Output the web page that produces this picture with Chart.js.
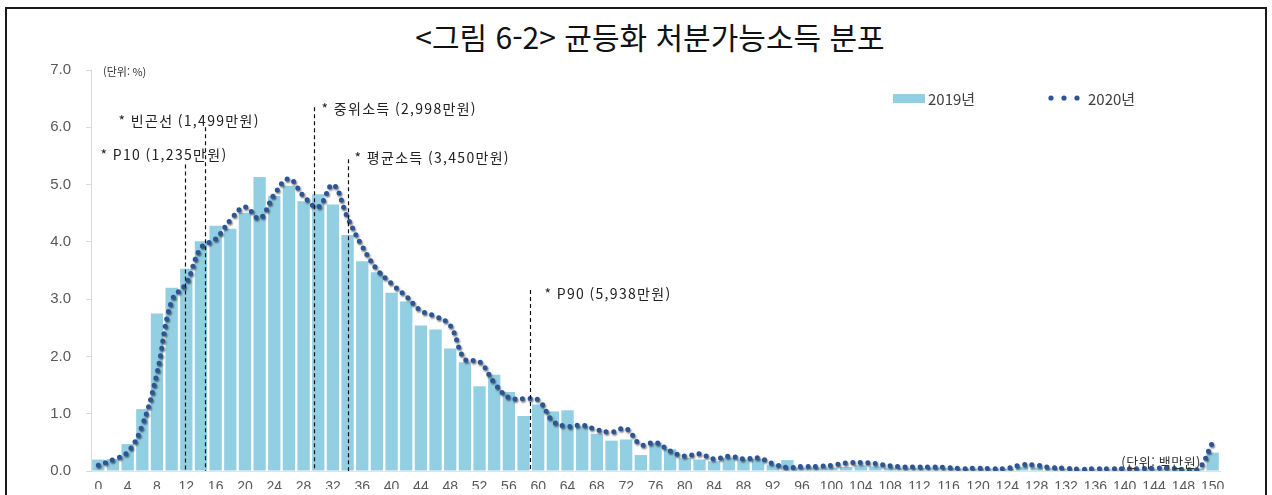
<!DOCTYPE html>
<html lang="ko">
<head>
<meta charset="UTF-8">
<title>균등화 처분가능소득 분포</title>
<script src="https://cdn.jsdelivr.net/npm/chart.js"></script>
<style>
  html, body { margin: 0; padding: 0; background: #fff; }
  #wrap { position: relative; width: 1272px; height: 495px; overflow: hidden; }
  #frame { position: absolute; left: 5px; top: 7px; width: 1258px; height: 530px; border: 2px solid #1a1a1a; }
  #title { position: absolute; left: 14px; width: 1272px; top: 14px; text-align: center;
           font-family: 'Noto Sans CJK KR', sans-serif; font-size: 30px; font-weight: 400; color: #111; }
  canvas { position: absolute; left: 0; top: 0; }
</style>
</head>
<body>
<div id="wrap">
  <div id="frame"></div>
  <div id="title">&lt;그림 6-2&gt; 균등화 처분가능소득 분포</div>
  <canvas id="incomeChart" width="1272" height="495"></canvas>
</div>

<script>
// income bins (백만원), one per bar
const categories = ['0','2','4','6','8','10','12','14','16','18','20','22','24','26','28','30','32','34','36','38',
  '40','42','44','46','48','50','52','54','56','58','60','62','64','66','68','70','72','74','76','78',
  '80','82','84','86','88','90','92','94','96','98','100','102','104','106','108','110','112','114','116','118',
  '120','122','124','126','128','130','132','134','136','138','140','142','144','146','148','149','150'];

// share of population (%)
const share2019 = [0.20,0.21,0.47,1.08,2.75,3.20,3.53,4.01,4.28,4.23,
  4.51,5.13,4.80,4.98,4.71,4.83,4.65,4.12,3.66,3.47,
  3.11,2.96,2.54,2.47,2.14,1.90,1.48,1.68,1.38,0.96,
  1.16,1.04,1.06,0.78,0.65,0.53,0.55,0.28,0.49,0.38,
  0.23,0.20,0.17,0.23,0.20,0.21,0.11,0.19,0.06,0.06,
  0.06,0.07,0.10,0.08,0.06,0.05,0.05,0.06,0.05,0.04,
  0.04,0.04,0.04,0.07,0.06,0.05,0.04,0.03,0.03,0.03,
  0.03,0.03,0.03,0.03,0.03,0.04,0.32];

const share2020 = [0.10,0.20,0.33,0.80,1.71,2.97,3.28,3.90,4.05,4.38,
  4.61,4.41,4.83,5.10,4.80,4.61,5.00,4.42,3.92,3.52,
  3.27,3.05,2.80,2.70,2.54,1.95,1.91,1.54,1.28,1.26,
  1.24,0.87,0.78,0.80,0.72,0.68,0.74,0.46,0.50,0.35,
  0.26,0.30,0.21,0.26,0.21,0.23,0.13,0.06,0.08,0.08,
  0.10,0.14,0.15,0.13,0.09,0.07,0.07,0.07,0.06,0.04,
  0.05,0.04,0.05,0.11,0.10,0.06,0.05,0.03,0.04,0.04,
  0.04,0.04,0.05,0.05,0.03,0.03,0.50];

const seriesNames = ['2019년', '2020년'];

// reference lines (만원)
const markerNames = ['P10', '빈곤선', '중위소득', '평균소득', 'P90'];
const markerIncome = [1235, 1499, 2998, 3450, 5938];

// where each reference line starts and where its label sits
const markerLayout = [
  { top: 5.35, labelY: 5.52, dx: -85 },
  { top: 6.00, labelY: 6.12, dx: -87 },
  { top: 6.35, labelY: 6.33, dx: 7 },
  { top: 5.44, labelY: 5.47, dx: 6 },
  { top: 3.16, labelY: 3.10, dx: 14 }
];

const barColor = '#93cfe3';
const dotColor = '#2c5596';
const labelFont = "14px 'Noto Sans CJK KR', sans-serif";

const fmt = n => n.toLocaleString('en-US');

const markerPlugin = {
  id: 'markers',
  beforeDatasetDraw(chart, args) {
    if (args.index === 1) {
      const ctx = chart.ctx;
      ctx.save();
      ctx.shadowColor = 'rgba(0,0,0,0.55)';
      ctx.shadowBlur = 2;
      ctx.shadowOffsetX = 1;
      ctx.shadowOffsetY = 1.5;
    }
  },
  afterDatasetDraw(chart, args) {
    if (args.index === 1) chart.ctx.restore();
  },
  afterDatasetsDraw(chart) {
    const { ctx, scales: { x, y } } = chart;
    ctx.save();
    ctx.letterSpacing = '1.3px';

    // dashed reference lines
    markerIncome.forEach((v, i) => {
      const px = Math.round(x.getPixelForValue(v / 200 - 0.25)) + 0.5;
      const lay = markerLayout[i];
      ctx.strokeStyle = '#111';
      ctx.lineWidth = 1.2;
      ctx.setLineDash([4, 3]);
      ctx.beginPath();
      ctx.moveTo(px, y.getPixelForValue(lay.top));
      ctx.lineTo(px, y.getPixelForValue(0));
      ctx.stroke();

      ctx.setLineDash([]);
      ctx.fillStyle = '#222';
      ctx.font = labelFont;
      ctx.textAlign = 'left';
      ctx.textBaseline = 'middle';
      ctx.fillText('* ' + markerNames[i] + ' (' + fmt(v) + '만원)', px + lay.dx, y.getPixelForValue(lay.labelY));
    });

    // unit notes
    ctx.fillStyle = '#333';
    ctx.font = "11px 'Noto Sans CJK KR', sans-serif";
    ctx.letterSpacing = '0px';
    ctx.textAlign = 'left';
    ctx.fillText('(단위: %)', x.left + 12, y.getPixelForValue(7) + 2);
    ctx.font = "13px 'Noto Sans CJK KR', sans-serif";
    ctx.letterSpacing = '0.5px';
    ctx.textAlign = 'right';
    ctx.fillText('(단위: 백만원)', x.right - 19, y.getPixelForValue(0) - 9);

    // legend
    const ly = 98;
    ctx.letterSpacing = '0px';
    ctx.fillStyle = barColor;
    ctx.fillRect(893, ly - 4, 32, 9);
    ctx.fillStyle = '#404040';
    ctx.font = "15px 'Noto Sans CJK KR', sans-serif";
    ctx.textAlign = 'left';
    ctx.fillText(seriesNames[0], 928, ly + 1);
    ctx.fillStyle = dotColor;
    [1051, 1064, 1077].forEach(cx => {
      ctx.beginPath();
      ctx.arc(cx, ly, 2.6, 0, Math.PI * 2);
      ctx.fill();
    });
    ctx.fillStyle = '#404040';
    ctx.fillText(seriesNames[1], 1088, ly + 1);
    ctx.restore();
  }
};

new Chart(document.getElementById('incomeChart'), {
  data: {
    labels: categories,
    datasets: [
      {
        type: 'bar',
        label: seriesNames[0],
        data: share2019,
        backgroundColor: barColor,
        barPercentage: 0.84,
        categoryPercentage: 1.0,
        order: 1
      },
      {
        type: 'line',
        label: seriesNames[1],
        data: share2020,
        borderColor: dotColor,
        borderWidth: 5,
        borderDash: [0, 7.5],
        borderCapStyle: 'round',
        pointRadius: 0,
        tension: 0.4,
        fill: false,
        order: 0
      }
    ]
  },
  options: {
    responsive: false,
    animation: false,
    layout: { padding: { top: 70, right: 52, left: 0, bottom: 0 } },
    plugins: {
      legend: { display: false },
      tooltip: { enabled: false }
    },
    scales: {
      x: {
        grid: { display: false, drawTicks: false },
        border: { display: true, color: '#e3e3e3' },
        ticks: {
          autoSkip: false,
          maxRotation: 0,
          padding: 8,
          color: '#595959',
          font: { family: "'Liberation Sans', sans-serif", size: 14 },
          callback: (v, i) => (i % 2 === 0 ? categories[i] : '')
        },
        afterFit: s => { s.height = 18; }
      },
      y: {
        min: 0,
        max: 7,
        grid: { drawOnChartArea: false, drawTicks: true, tickLength: 5, color: '#d9d9d9' },
        border: { display: true, color: '#d9d9d9' },
        ticks: {
          stepSize: 1,
          padding: 15,
          color: '#595959',
          font: { family: "'Liberation Sans', sans-serif", size: 15 },
          callback: v => v.toFixed(1)
        },
        afterFit: s => { s.width = 91; }
      }
    }
  },
  plugins: [markerPlugin]
});
</script>
</body>
</html>
